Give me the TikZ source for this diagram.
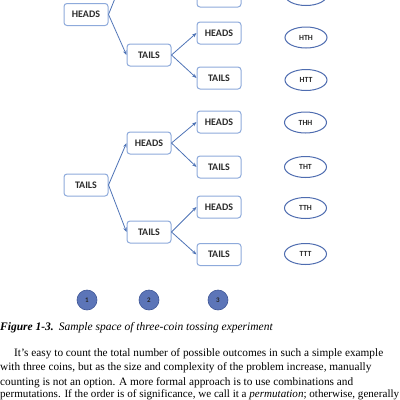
\documentclass[tikz,border=0pt]{standalone}
\usepackage{fontspec}
\setmainfont{Liberation Serif}
\newfontfamily\boxfont{Carlito}
\usetikzlibrary{arrows.meta,shapes.geometric}
\definecolor{boxline}{HTML}{8EAADB}
\definecolor{arrowcol}{HTML}{4E73B6}
\definecolor{ellline}{HTML}{4F6DB0}
\definecolor{coinfill}{HTML}{5C75B8}
\definecolor{coinline}{HTML}{3E5696}
\definecolor{txt}{HTML}{2B2B2B}
\tikzset{
  coinbox/.style={draw=boxline, line width=1pt, fill=white, rounded corners=3pt,
    minimum width=44pt, minimum height=22pt, inner sep=0pt,
    font=\boxfont\bfseries\fontsize{10}{12}\selectfont, text=txt},
  outcome/.style={ellipse, draw=ellline, line width=1pt, fill=white,
    minimum width=42pt, minimum height=21pt, inner sep=0pt,
    font=\boxfont\bfseries\fontsize{7.8}{9}\selectfont, text=txt},
  coin/.style={circle, draw=coinline, line width=0.6pt, fill=coinfill,
    minimum size=20pt, inner sep=0pt,
    font=\boxfont\bfseries\fontsize{7}{8}\selectfont, text=black!85},
  branch/.style={draw=arrowcol, line width=0.8pt, -{Stealth[length=4.5pt,width=3.5pt]}},
  bodyline/.style={anchor=base west, inner sep=0pt, text=black,
    font=\fontsize{11.3}{13}\selectfont}
}
\begin{document}
\begin{tikzpicture}[x=1pt,y=-1pt]
\useasboundingbox (0,0) rectangle (400,400);
\clip (0,0) rectangle (400,400);
% level 1
\node[coinbox] (r1) at (86,14.5) {HEADS};
\node[coinbox] (r2) at (86,185) {TAILS};
% level 2
\node[coinbox] (a1) at (149,-30) {};
\node[coinbox] (a2) at (149,55) {TAILS};
\node[coinbox] (b1) at (149,143) {HEADS};
\node[coinbox] (b2) at (149,232) {TAILS};
% level 3
\node[coinbox] (c1) at (219,-49) {};
\node[coinbox] (c2) at (219,-4) {};
\node[coinbox] (c3) at (219,33) {HEADS};
\node[coinbox] (c4) at (219,78) {TAILS};
\node[coinbox] (c5) at (219,122) {HEADS};
\node[coinbox] (c6) at (219,167) {TAILS};
\node[coinbox] (c7) at (219,207) {HEADS};
\node[coinbox] (c8) at (219,254.5) {TAILS};
% outcomes
\node[outcome] (o2) at (306,-5) {};
\node[outcome] (o3) at (306,37.5) {HTH};
\node[outcome] (o4) at (306,80) {HTT};
\node[outcome] (o5) at (305.5,122.5) {THH};
\node[outcome] (o6) at (305.5,167) {THT};
\node[outcome] (o7) at (305.5,208) {TTH};
\node[outcome] (o8) at (305.5,254) {TTT};
% branches
\draw[branch] (r1.east) -- (a1.west);
\draw[branch] (r1.east) -- (a2.west);
\draw[branch] (r2.east) -- (b1.west);
\draw[branch] (r2.east) -- (b2.west);
\draw[branch] (a1.east) -- (c1.west);
\draw[branch] (a1.east) -- (c2.west);
\draw[branch] (a2.east) -- (c3.west);
\draw[branch] (a2.east) -- (c4.west);
\draw[branch] (b1.east) -- (c5.west);
\draw[branch] (b1.east) -- (c6.west);
\draw[branch] (b2.east) -- (c7.west);
\draw[branch] (b2.east) -- (c8.west);
% coins
\node[coin] (k1) at (87,300) {1};
\node[coin] (k2) at (149,300) {2};
\node[coin] (k3) at (218,300) {3};
% caption
\node[anchor=base west, inner sep=0pt, font=\fontsize{11.5}{13}\selectfont] (cap) at (0,330)
  {\textbf{\textit{Figure 1-3.}}\hspace{5pt}\textit{Sample space of three-coin tossing experiment}};
% body text
\node[bodyline] (l1) at (14,356) {It's easy to count the total number of possible outcomes in such a simple example};
\node[bodyline] (l2) at (0,370.5) {with three coins, but as the size and complexity of the problem increase, manually};
\node[bodyline] (l3) at (0,385) {counting is not an option. A more formal approach is to use combinations and};
\node[bodyline] (l4) at (0,397) {\resizebox{399pt}{!}{permutations. If the order is of significance, we call it a \textit{permutation}; otherwise, generally}};
\end{tikzpicture}
\end{document}
